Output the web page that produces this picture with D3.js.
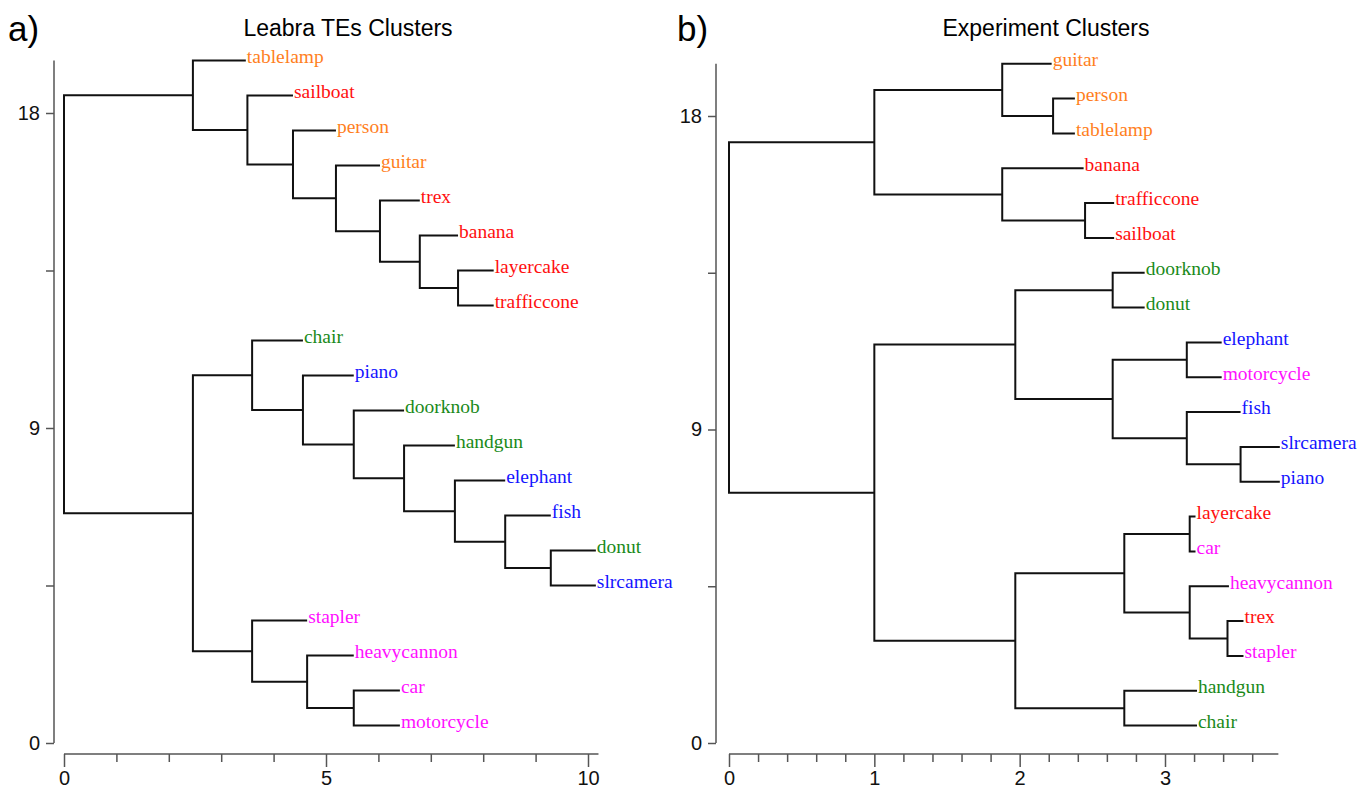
<!DOCTYPE html>
<html>
<head>
<meta charset="utf-8">
<script src="https://cdn.jsdelivr.net/npm/d3@7"></script>
<style>
  body { margin: 0; background: #fff; }
  .axis text { font-family: "Liberation Sans", Arial, sans-serif; font-size: 20px; fill: #111; }
  .axis line, .axis path { stroke: #555; stroke-width: 1.5; }
  .leaf { font-family: "Liberation Serif", "Times New Roman", serif; font-size: 19.5px; }
</style>
</head>
<body>
<div id="chart"></div>
<script>
// colours of the label groups
var groupColor = {o: "#ff7f1e", r: "#ff1010", g: "#1a8a1a", b: "#1515ff", m: "#ff10ff"};

// ---- a) Leabra TEs clusters ----
var leftLeaves = ["tablelamp","sailboat","person","guitar","trex","banana","layercake","trafficcone",
  "chair","piano","doorknob","handgun","elephant","fish","donut","slrcamera",
  "stapler","heavycannon","car","motorcycle"];
var leftGroups = ["o","r","o","o","r","r","r","r","g","b","g","g","b","b","g","b","m","m","m","m"];
var leftLeafEnd = [3.47,4.37,5.19,6.03,6.79,7.52,8.2,8.2,4.56,5.53,6.49,7.46,8.42,9.29,10.15,10.15,4.64,5.53,6.41,6.41];
// merges: [child, child, distance]; ids >= 20 are earlier merges
var leftMerges = [
  [6,7,7.52],[5,20,6.79],[4,21,6.03],[3,22,5.19],[2,23,4.37],[1,24,3.5],[0,25,2.46],
  [14,15,9.29],[13,27,8.42],[12,28,7.46],[11,29,6.49],[10,30,5.53],[9,31,4.56],[8,32,3.59],
  [18,19,5.53],[17,34,4.64],[16,35,3.59],[33,36,2.46],[26,37,0]
];
var leftXTicks = [0,5,10];
var leftXMinor = [1,2,3,4,6,7,8,9];

// ---- b) Experiment clusters ----
var rightLeaves = ["guitar","person","tablelamp","banana","trafficcone","sailboat","doorknob","donut",
  "elephant","motorcycle","fish","slrcamera","piano","layercake","car","heavycannon","trex","stapler",
  "handgun","chair"];
var rightGroups = ["o","o","o","r","r","r","g","g","b","m","b","b","b","r","m","m","r","m","g","g"];
var rightLeafEnd = [2.22,2.38,2.38,2.44,2.65,2.65,2.86,2.86,3.39,3.39,3.52,3.79,3.79,3.21,3.21,3.44,3.54,3.54,3.22,3.22];
var rightMerges = [
  [1,2,2.23],[0,20,1.88],[4,5,2.45],[3,22,1.88],[21,23,1.0],
  [6,7,2.64],[8,9,3.15],[11,12,3.52],[10,27,3.15],[26,28,2.64],[25,29,1.97],
  [13,14,3.17],[16,17,3.43],[15,32,3.17],[31,33,2.72],[18,19,2.72],[34,35,1.97],[30,36,1.0],[24,37,0]
];
var rightXTicks = [0,1,2,3];
var rightXMinor = [0.2,0.4,0.6,0.8,1.2,1.4,1.6,1.8,2.2,2.4,2.6,2.8,3.2,3.4,3.6];

var yTicks = [0,9,18];
var yMinor = [4.5,13.5];

var svg = d3.select("#chart").append("svg")
  .attr("width", 1368)
  .attr("height", 790);

function drawPanel(p) {
  var g = svg.append("g");
  var x = d3.scaleLinear().domain(p.xDomain).range(p.xRange);
  var y = d3.scaleLinear().domain([0,18]).range(p.yRange);
  var n = p.leaves.length;

  // position of every node (leaves first, then merges)
  var pos = [];
  p.leaves.forEach(function(d, i) { pos.push({y: n - 0.5 - i, end: p.leafEnd[i]}); });
  p.merges.forEach(function(m) {
    pos.push({y: (pos[m[0]].y + pos[m[1]].y) / 2, end: m[2]});
  });

  var lines = g.append("g")
    .attr("fill", "none")
    .attr("stroke", "#111")
    .attr("stroke-width", 2);
  lines.selectAll("path")
    .data(p.merges).enter()
    .append("path")
    .attr("d", function(m) {
      var a = pos[m[0]], b = pos[m[1]];
      return "M" + x(a.end) + "," + y(a.y) + "H" + x(m[2]) + "V" + y(b.y) + "H" + x(b.end);
    });

  g.selectAll(".leaf")
    .data(p.leaves).enter()
    .append("text")
    .attr("class", "leaf")
    .attr("x", function(d, i) { return x(p.leafEnd[i]) + 1; })
    .attr("y", function(d, i) { return y(pos[i].y); })
    .attr("dy", "0.12em")
    .attr("fill", function(d, i) { return groupColor[p.groups[i]]; })
    .text(function(d) { return d; });

  // x axis
  var xAxisY = 754;
  var xa = g.append("g").attr("class", "axis").attr("transform", "translate(0," + xAxisY + ")");
  xa.append("line").attr("x1", x(0)).attr("x2", x(p.xEnd)).attr("y1", 0).attr("y2", 0);
  xa.append("g").call(d3.axisBottom(x).tickValues(p.xMinor).tickSize(8).tickSizeOuter(0).tickFormat(""))
    .select(".domain").remove();
  xa.append("g").call(d3.axisBottom(x).tickValues(p.xTicks).tickSize(13).tickSizeOuter(0).tickFormat(d3.format("d")).tickPadding(4))
    .select(".domain").remove();

  // y axis
  var ya = g.append("g").attr("class", "axis").attr("transform", "translate(" + p.yAxisX + ",0)");
  ya.append("line").attr("x1", 0).attr("x2", 0).attr("y1", y(0)).attr("y2", y(19.5));
  ya.append("g").call(d3.axisLeft(y).tickValues(yMinor).tickSize(8).tickSizeOuter(0).tickFormat(""))
    .select(".domain").remove();
  ya.append("g").call(d3.axisLeft(y).tickValues(yTicks).tickSize(8).tickSizeOuter(0).tickPadding(6))
    .select(".domain").remove();

  svg.append("text")
    .attr("x", p.titleX).attr("y", 36)
    .attr("text-anchor", "middle")
    .style("font-family", "Liberation Sans, Arial, sans-serif")
    .style("font-size", "23px")
    .text(p.title);
  svg.append("text")
    .attr("x", p.letterX).attr("y", 41)
    .style("font-family", "Liberation Sans, Arial, sans-serif")
    .style("font-size", "35px")
    .text(p.letter);
}

drawPanel({
  leaves: leftLeaves, groups: leftGroups, leafEnd: leftLeafEnd, merges: leftMerges,
  xDomain: [0,10], xRange: [64,588], xEnd: 10.2, xTicks: leftXTicks, xMinor: leftXMinor,
  yRange: [743,113], yAxisX: 54,
  title: "Leabra TEs Clusters", titleX: 348, letter: "a)", letterX: 8
});

drawPanel({
  leaves: rightLeaves, groups: rightGroups, leafEnd: rightLeafEnd, merges: rightMerges,
  xDomain: [0,3], xRange: [729,1165], xEnd: 3.78, xTicks: rightXTicks, xMinor: rightXMinor,
  yRange: [743,116], yAxisX: 716,
  title: "Experiment Clusters", titleX: 1046, letter: "b)", letterX: 677
});
</script>
</body>
</html>
